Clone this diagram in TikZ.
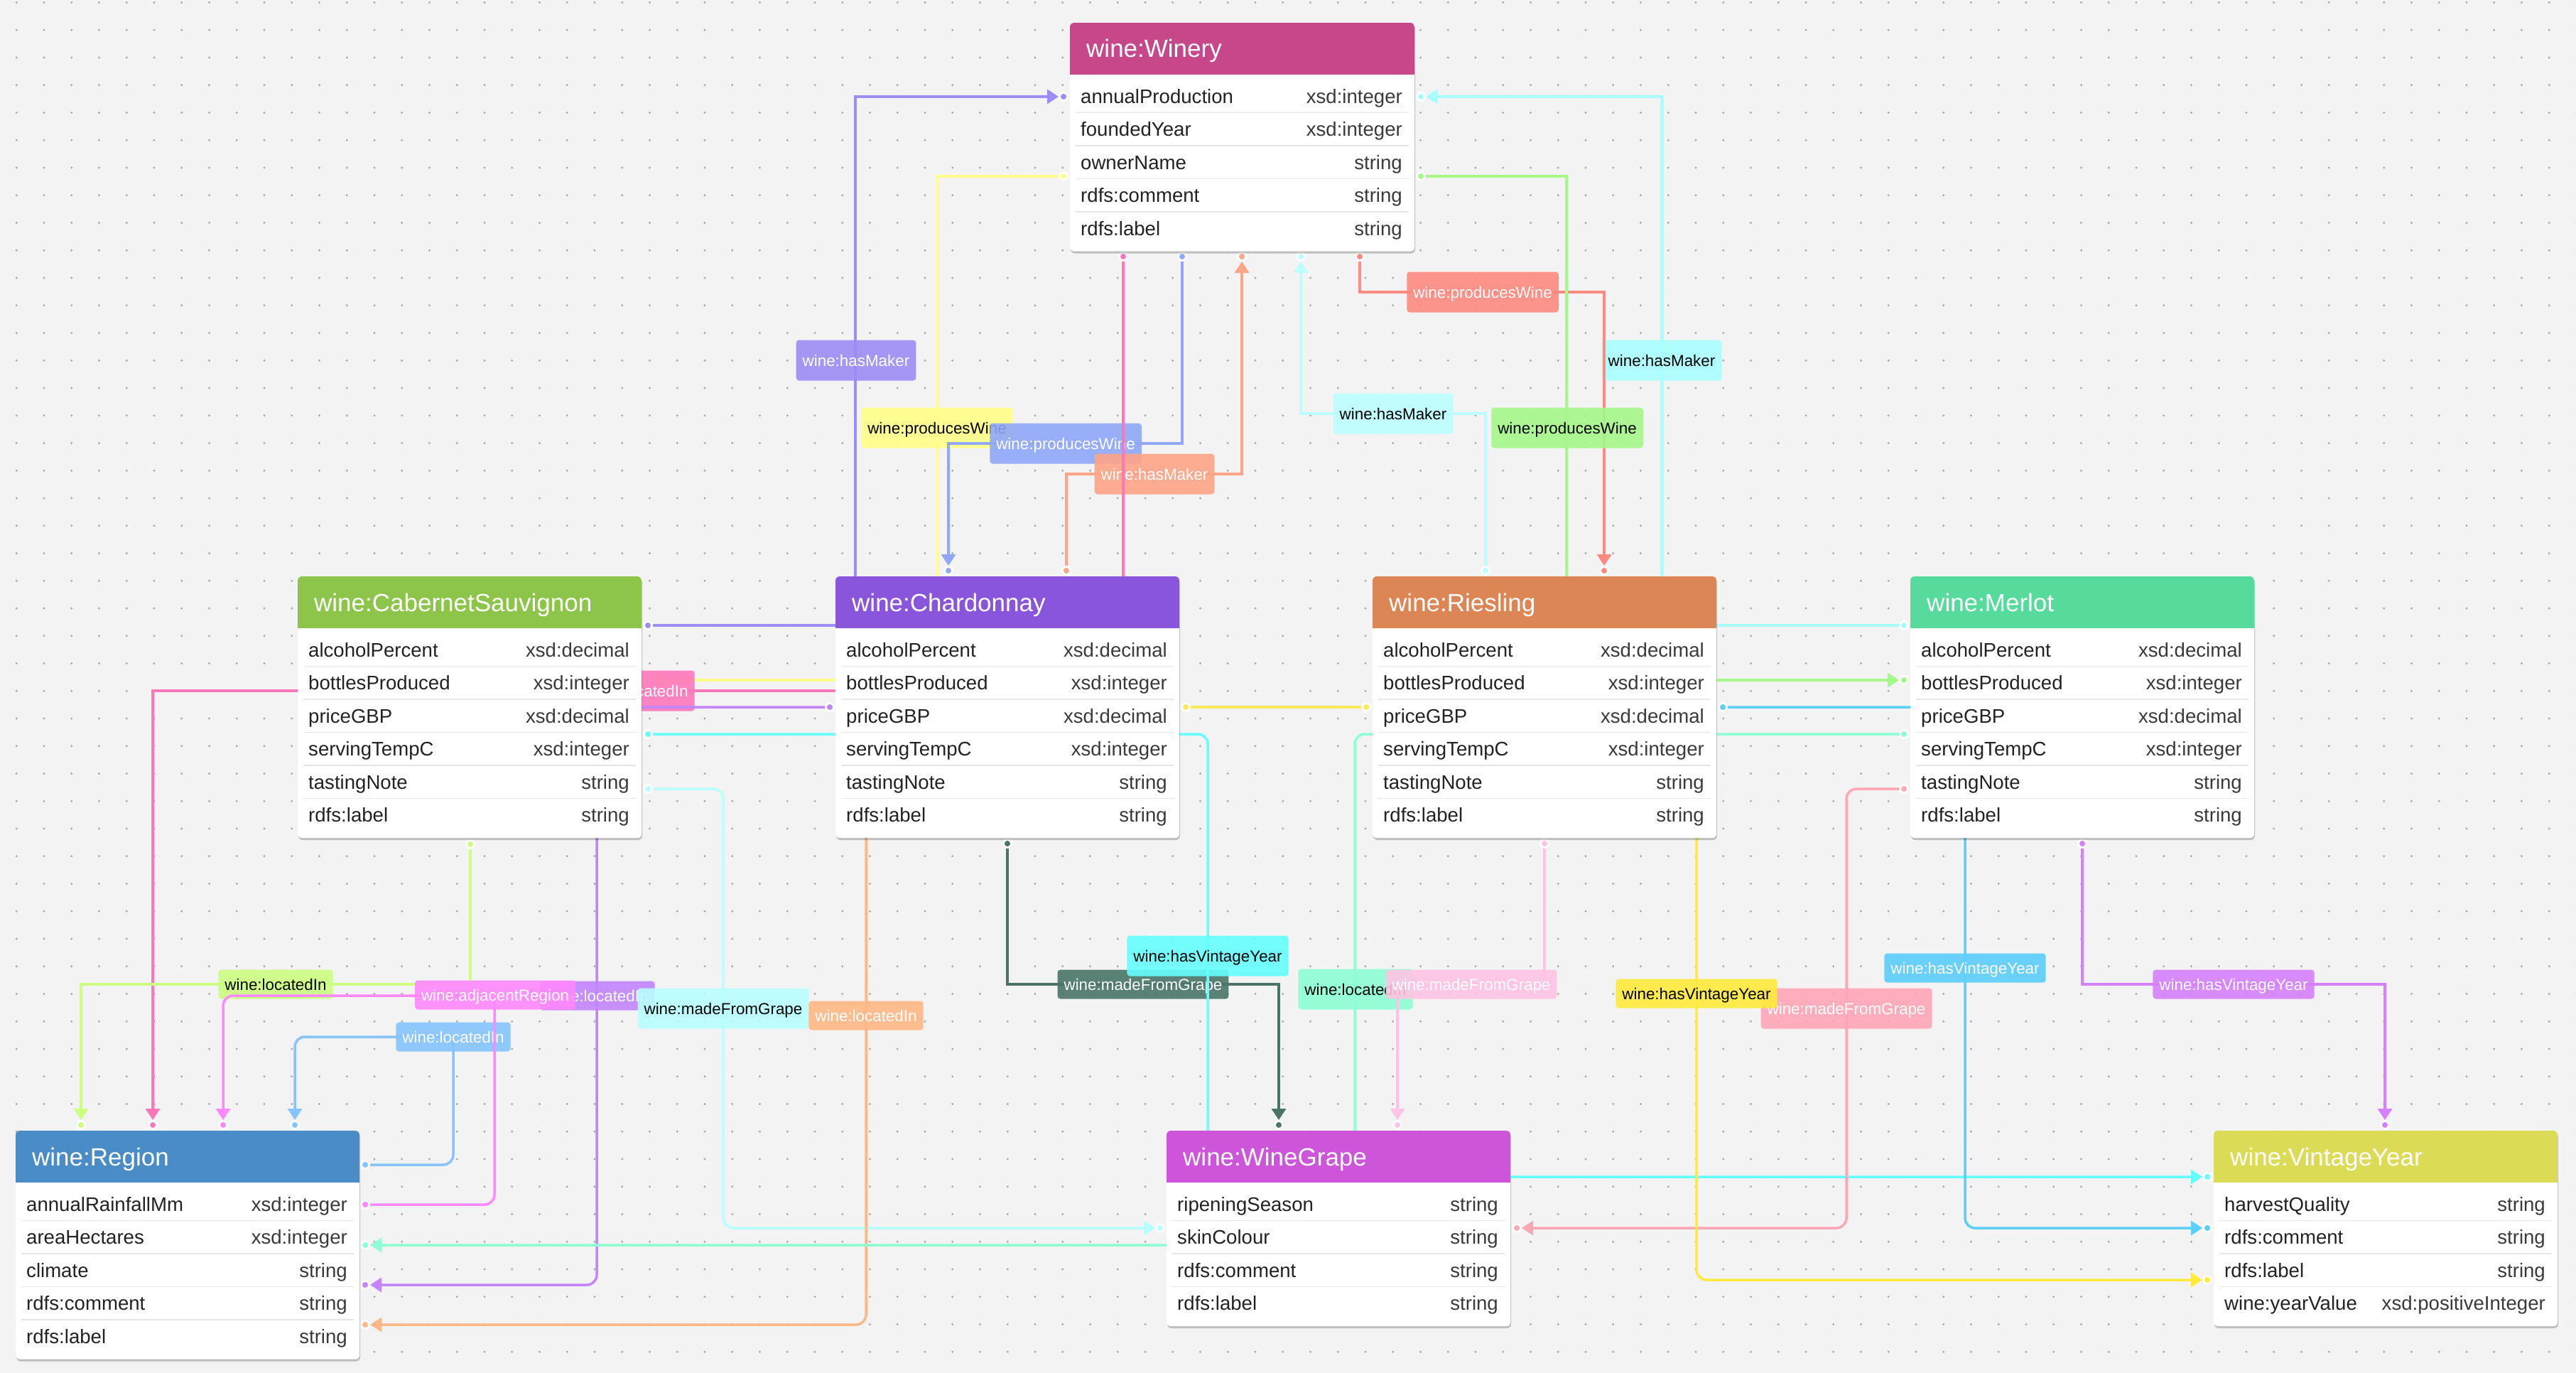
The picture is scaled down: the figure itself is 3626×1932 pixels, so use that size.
\documentclass[tikz,border=0pt]{standalone}
\usepackage{fontspec}
\setmainfont{Liberation Sans}
\usetikzlibrary{arrows.meta}
\definecolor{bgc}{HTML}{F3F3F3}
\definecolor{dotc}{HTML}{A8A8A8}
\definecolor{namec}{HTML}{222222}
\definecolor{typec}{HTML}{3A3A3A}
\definecolor{sepc}{HTML}{E6E6E6}
\definecolor{hWinery}{HTML}{C6478A}
\definecolor{hCab}{HTML}{8DC54B}
\definecolor{hChard}{HTML}{8855DB}
\definecolor{hRies}{HTML}{DC8555}
\definecolor{hMerlot}{HTML}{56DB9D}
\definecolor{hRegion}{HTML}{4A8CC6}
\definecolor{hGrape}{HTML}{CD55DA}
\definecolor{hVintage}{HTML}{DCDB56}
\definecolor{cHasMakerA}{HTML}{9D8CF7}
\definecolor{cProdY}{HTML}{FFFF88}
\definecolor{cProdB}{HTML}{8FA8F8}
\definecolor{cHasMakerS}{HTML}{FFA587}
\definecolor{cLocPink}{HTML}{FF77BB}
\definecolor{cHasMakerCa}{HTML}{A8FFFF}
\definecolor{cHasMakerCb}{HTML}{BDFFFF}
\definecolor{cProdR}{HTML}{FF8A80}
\definecolor{cProdG}{HTML}{A5F88A}
\definecolor{cHVsky}{HTML}{5BCEFA}
\definecolor{cLocMint}{HTML}{8CFFD4}
\definecolor{cMFGlpink}{HTML}{FFC4E4}
\definecolor{cMFGdark}{HTML}{4A7568}
\definecolor{cHVcyan}{HTML}{66FFFF}
\definecolor{cMFGlcyan}{HTML}{B8FFFF}
\definecolor{cLocPeach}{HTML}{FFB885}
\definecolor{cLocPurple}{HTML}{C285FF}
\definecolor{cAdj}{HTML}{FF88FF}
\definecolor{cLocLime}{HTML}{CCFF80}
\definecolor{cLocBlue}{HTML}{85C4FF}
\definecolor{cMFGpink}{HTML}{FFA6B5}
\definecolor{cHVyellow}{HTML}{FFEB3B}
\definecolor{cHVviolet}{HTML}{D580FF}
\definecolor{cYline}{HTML}{FFE95A}
\newcommand{\rowf}{\fontsize{27.6pt}{32pt}\selectfont}
\newcommand{\titlef}{\fontsize{35pt}{40pt}\selectfont}
\newcommand{\labf}{\fontsize{22.4pt}{26pt}\selectfont}
\tikzset{
  edge/.style={line width=3.5pt},
  arr/.style={-{Triangle[length=16pt,width=20pt]}, shorten >=7pt},
  rc/.style={rounded corners=14pt},
  lab/.style={rounded corners=4pt, font=\labf, inner xsep=9pt, inner ysep=0pt,
    text height=16pt, text depth=0pt, fill opacity=0.9, text opacity=1},
  hi/.style={minimum height=57pt},
  lo/.style={minimum height=41pt}
}
\newcommand{\pdot}[2]{\fill[white] (#1) circle (7pt); \fill[#2] (#1) circle (4pt);}
\newcommand{\umlclass}[8]{%
  \pgfmathsetmacro{\boxH}{89+46.5*#5}
  \fill[black, opacity=0.22, rounded corners=6pt] (#2+1,#3+3) rectangle ++(#4,\boxH);
  \node[fill=white, rounded corners=6pt, minimum width=#4pt, minimum height=\boxH pt,
        inner sep=0pt, anchor=north west] (#1) at (#2,#3) {};
  \begin{scope}
    \clip[rounded corners=6pt] (#2,#3) rectangle ++(#4,\boxH);
    \fill[#6] (#2,#3) rectangle ++(#4,73);
  \end{scope}
  \node[anchor=base west, text=white, font=\titlef, inner sep=0pt] at (#2+23,#3+49) {#7};
  \foreach \a/\b [count=\i from 0] in {#8} {
    \pgfmathsetmacro{\yc}{#3+80+23.25+46.5*\i}
    \node[anchor=base west, text=namec, font=\rowf, inner sep=0pt] at (#2+15,\yc+9.8) {\a};
    \node[anchor=base east, text=typec, font=\rowf, inner sep=0pt] at (#2+#4-17,\yc+9.8) {\b};
    \ifnum\i>0 \draw[sepc, line width=1.5pt] (#2+8,\yc-23.25) -- (#2+#4-8,\yc-23.25); \fi
  }
}
\begin{document}
\begin{tikzpicture}[x=1pt,y=-1pt]
\useasboundingbox (0,0) rectangle (3626,1932);
\fill[bgc] (0,0) rectangle (3626,1932);
\foreach \i in {0,...,93} {\foreach \j in {0,...,49} {\fill[dotc] (23.25+\i*38.75,3.5+\j*38.75) circle (1.6pt);}}
% ports
\coordinate (winL1) at (1497,136); \coordinate (winL3) at (1497,248);
\coordinate (winR1) at (2000,136); \coordinate (winR3) at (2000,248);
\coordinate (winB1) at (1581,361); \coordinate (winB2) at (1664,361);
\coordinate (winB3) at (1748,361); \coordinate (winB4) at (1831,361);
\coordinate (winB5) at (1914,361);
\coordinate (cabR0) at (912,880); \coordinate (cabR2) at (912,957);
\coordinate (cabR4) at (912,1033); \coordinate (cabR5) at (912,1110);
\coordinate (cabB1) at (662,1188); \coordinate (cabB2) at (840,1170);
\coordinate (chdT1) at (1335,803); \coordinate (chdT2) at (1501,803);
\coordinate (chdL) at (1168,995); \coordinate (chdR) at (1669,995);
\coordinate (chdB1) at (1418,1187); \coordinate (chdB2) at (1219,1170);
\coordinate (riT1) at (2091,803); \coordinate (riT2) at (2258,803);
\coordinate (riL) at (1923,995); \coordinate (riR) at (2425,995);
\coordinate (riB1) at (2174,1187); \coordinate (riB2) at (2388,1170);
\coordinate (meL0) at (2680,880); \coordinate (meL2) at (2680,957);
\coordinate (meL4) at (2680,1033); \coordinate (meL5) at (2680,1110);
\coordinate (meB) at (2931,1187);
\coordinate (reT1) at (114,1583); \coordinate (reT2) at (215,1583);
\coordinate (reT3) at (314,1583); \coordinate (reT4) at (415,1583);
\coordinate (reR0) at (514,1639); \coordinate (reR1) at (514,1695);
\coordinate (reR2) at (514,1752); \coordinate (reR4) at (514,1808);
\coordinate (reR6) at (514,1864);
\coordinate (grT1) at (1800,1583); \coordinate (grT2) at (1967,1583);
\coordinate (grL) at (1633,1728); \coordinate (grR) at (2135,1728);
\coordinate (vyT) at (3357,1583); \coordinate (vyL0) at (3107,1656);
\coordinate (vyL2) at (3107,1728); \coordinate (vyL4) at (3107,1801);
% E1 hasMaker Cab -> Winery
\draw[edge, cHasMakerA, arr] (cabR0) -- (1204,880) -- (1204,136) -- (winL1);
\node[lab, hi, fill=cHasMakerA, text=white] (l1) at (1205,507) {wine:hasMaker};
\pdot{cabR0}{cHasMakerA}\pdot{winL1}{cHasMakerA}
% E2 producesWine Winery -> Cab
\draw[edge, cProdY, arr] (winL3) -- (1319,248) -- (1319,957) -- (cabR2);
\node[lab, hi, fill=cProdY, text=black] (l2) at (1319,602) {wine:producesWine};
\pdot{winL3}{cProdY}\pdot{cabR2}{cProdY}
\draw[edge, cYline] (chdR) -- (riL);
\pdot{chdR}{cYline}\pdot{riL}{cYline}
% E3 producesWine Winery -> Chardonnay
\draw[edge, cProdB, arr] (winB2) -- (1664,624) -- (1335,624) -- (chdT1);
\node[lab, hi, fill=cProdB, text=white] (l3) at (1500,624) {wine:producesWine};
\pdot{winB2}{cProdB}\pdot{chdT1}{cProdB}
% E4 hasMaker Chardonnay -> Winery
\draw[edge, cHasMakerS, arr] (chdT2) -- (1501,667) -- (1748,667) -- (winB3);
\node[lab, hi, fill=cHasMakerS, text=white] (l4) at (1625,667) {wine:hasMaker};
\pdot{chdT2}{cHasMakerS}\pdot{winB3}{cHasMakerS}
% E5 locatedIn Winery -> Region
\draw[edge, cLocPink, arr] (winB1) -- (1581,972) -- (215,972) -- (reT2);
\node[lab, hi, fill=cLocPink, text=white] (l5) at (897,972) {wine:locatedIn};
\pdot{winB1}{cLocPink}\pdot{reT2}{cLocPink}
% E6 hasMaker Merlot -> Winery
\draw[edge, cHasMakerCa, arr] (meL0) -- (2339,880) -- (2339,136) -- (winR1);
\node[lab, hi, fill=cHasMakerCa, text=black] (l6) at (2339,507) {wine:hasMaker};
\pdot{meL0}{cHasMakerCa}\pdot{winR1}{cHasMakerCa}
% E7 hasMaker Riesling -> Winery
\draw[edge, cHasMakerCb, arr] (riT1) -- (2091,582) -- (1831,582) -- (winB4);
\node[lab, hi, fill=cHasMakerCb, text=black] (l7) at (1961,582) {wine:hasMaker};
\pdot{riT1}{cHasMakerCb}\pdot{winB4}{cHasMakerCb}
% E8 producesWine Winery -> Riesling
\draw[edge, cProdR, arr] (winB5) -- (1914,411) -- (2258,411) -- (riT2);
\node[lab, hi, fill=cProdR, text=white] (l8) at (2087,411) {wine:producesWine};
\pdot{winB5}{cProdR}\pdot{riT2}{cProdR}
% E9 producesWine Winery -> Merlot
\draw[edge, cProdG, arr] (winR3) -- (2205,248) -- (2205,957) -- (meL2);
\node[lab, hi, fill=cProdG, text=black] (l9) at (2206,602) {wine:producesWine};
\pdot{winR3}{cProdG}\pdot{meL2}{cProdG}
% E13 madeFromGrape Chardonnay -> WineGrape
\draw[edge, cMFGdark, arr] (chdB1) -- (1418,1385) -- (1800,1385) -- (grT1);
\node[lab, lo, fill=cMFGdark, text=white] (l13) at (1609,1385) {wine:madeFromGrape};
\pdot{chdB1}{cMFGdark}\pdot{grT1}{cMFGdark}
% E14 hasVintageYear Cab -> VintageYear
\draw[edge, cHVcyan, arr, rc] (cabR4) -- (1700,1033) -- (1700,1656) -- (vyL0);
\node[lab, hi, fill=cHVcyan, text=black] (l14) at (1700,1345) {wine:hasVintageYear};
\pdot{cabR4}{cHVcyan}\pdot{vyL0}{cHVcyan}
% E17 locatedIn Chardonnay -> Region
\draw[edge, cLocPurple, arr, rc] (chdL) -- (840,995) -- (840,1808) -- (reR4);
\node[lab, lo, fill=cLocPurple, text=white] (l17) at (841,1401) {wine:locatedIn};
\pdot{chdL}{cLocPurple}\pdot{reR4}{cLocPurple}
% E19 locatedIn Cab -> Region
\draw[edge, cLocLime, arr] (cabB1) -- (662,1385) -- (114,1385) -- (reT1);
\node[lab, lo, fill=cLocLime, text=black] (l19) at (388,1385) {wine:locatedIn};
\pdot{cabB1}{cLocLime}\pdot{reT1}{cLocLime}
% E20 locatedIn Region -> Region
\draw[edge, cLocBlue, arr, rc] (reR0) -- (638,1639) -- (638,1459) -- (415,1459) -- (reT4);
\node[lab, lo, fill=cLocBlue, text=white] (l20) at (638,1459) {wine:locatedIn};
\pdot{reR0}{cLocBlue}\pdot{reT4}{cLocBlue}
% E18 adjacentRegion Region -> Region
\draw[edge, cAdj, arr, rc] (reR1) -- (696,1695) -- (696,1401) -- (314,1401) -- (reT3);
\node[lab, lo, fill=cAdj, text=white] (l18) at (697,1400) {wine:adjacentRegion};
\pdot{reR1}{cAdj}\pdot{reT3}{cAdj}
% E15 madeFromGrape Cab -> WineGrape
\draw[edge, cMFGlcyan, arr, rc] (cabR5) -- (1018,1110) -- (1018,1728) -- (grL);
\node[lab, hi, fill=cMFGlcyan, text=black] (l15) at (1018,1419) {wine:madeFromGrape};
\pdot{cabR5}{cMFGlcyan}\pdot{grL}{cMFGlcyan}
% E16 locatedIn Chardonnay -> Region
\draw[edge, cLocPeach, arr, rc] (chdB2) -- (1219,1864) -- (reR6);
\node[lab, lo, fill=cLocPeach, text=white] (l16) at (1219,1429) {wine:locatedIn};
\pdot{reR6}{cLocPeach}
% E22 madeFromGrape Merlot -> WineGrape
\draw[edge, cMFGpink, arr, rc] (meL5) -- (2599,1110) -- (2599,1728) -- (grR);
\node[lab, hi, fill=cMFGpink, text=white] (l22) at (2599,1419) {wine:madeFromGrape};
\pdot{meL5}{cMFGpink}\pdot{grR}{cMFGpink}
% E23 hasVintageYear Riesling -> VintageYear
\draw[edge, cHVyellow, arr, rc] (riB2) -- (2388,1801) -- (vyL4);
\node[lab, lo, fill=cHVyellow, text=black] (l23) at (2388,1398) {wine:hasVintageYear};
\pdot{vyL4}{cHVyellow}
% E24 hasVintageYear Merlot -> VintageYear
\draw[edge, cHVviolet, arr] (meB) -- (2931,1385) -- (3357,1385) -- (vyT);
\node[lab, lo, fill=cHVviolet, text=white] (l24) at (3144,1385) {wine:hasVintageYear};
\pdot{meB}{cHVviolet}\pdot{vyT}{cHVviolet}
% E10 hasVintageYear Riesling -> VintageYear
\draw[edge, cHVsky, arr, rc] (riR) -- (2766,995) -- (2766,1728) -- (vyL2);
\node[lab, lo, fill=cHVsky, text=white] (l10) at (2766,1362) {wine:hasVintageYear};
\pdot{riR}{cHVsky}\pdot{vyL2}{cHVsky}
% E11 locatedIn Merlot -> Region
\draw[edge, cLocMint, arr, rc] (meL4) -- (1907,1033) -- (1907,1752) -- (reR2);
\node[lab, hi, fill=cLocMint, text=black] (l11) at (1908,1392) {wine:locatedIn};
\pdot{meL4}{cLocMint}\pdot{reR2}{cLocMint}
% E12 madeFromGrape Riesling -> WineGrape
\draw[edge, cMFGlpink, arr] (riB1) -- (2174,1385) -- (1967,1385) -- (grT2);
\node[lab, lo, fill=cMFGlpink, text=white] (l12) at (2071,1385) {wine:madeFromGrape};
\pdot{riB1}{cMFGlpink}\pdot{grT2}{cMFGlpink}
% classes
\umlclass{winery}{1506}{32}{485}{5}{hWinery}{wine:Winery}{annualProduction/xsd:integer, foundedYear/xsd:integer, ownerName/string, rdfs:comment/string, rdfs:label/string}
\umlclass{cab}{419}{811}{484}{6}{hCab}{wine:CabernetSauvignon}{alcoholPercent/xsd:decimal, bottlesProduced/xsd:integer, priceGBP/xsd:decimal, servingTempC/xsd:integer, tastingNote/string, rdfs:label/string}
\umlclass{chard}{1176}{811}{484}{6}{hChard}{wine:Chardonnay}{alcoholPercent/xsd:decimal, bottlesProduced/xsd:integer, priceGBP/xsd:decimal, servingTempC/xsd:integer, tastingNote/string, rdfs:label/string}
\umlclass{ries}{1932}{811}{484}{6}{hRies}{wine:Riesling}{alcoholPercent/xsd:decimal, bottlesProduced/xsd:integer, priceGBP/xsd:decimal, servingTempC/xsd:integer, tastingNote/string, rdfs:label/string}
\umlclass{merlot}{2689}{811}{484}{6}{hMerlot}{wine:Merlot}{alcoholPercent/xsd:decimal, bottlesProduced/xsd:integer, priceGBP/xsd:decimal, servingTempC/xsd:integer, tastingNote/string, rdfs:label/string}
\umlclass{region}{22}{1591}{484}{5}{hRegion}{wine:Region}{annualRainfallMm/xsd:integer, areaHectares/xsd:integer, climate/string, rdfs:comment/string, rdfs:label/string}
\umlclass{grape}{1642}{1591}{484}{4}{hGrape}{wine:WineGrape}{ripeningSeason/string, skinColour/string, rdfs:comment/string, rdfs:label/string}
\umlclass{vintage}{3116}{1591}{484}{4}{hVintage}{wine:VintageYear}{harvestQuality/string, rdfs:comment/string, rdfs:label/string, wine:yearValue/xsd:positiveInteger}
\end{tikzpicture}
\end{document}
